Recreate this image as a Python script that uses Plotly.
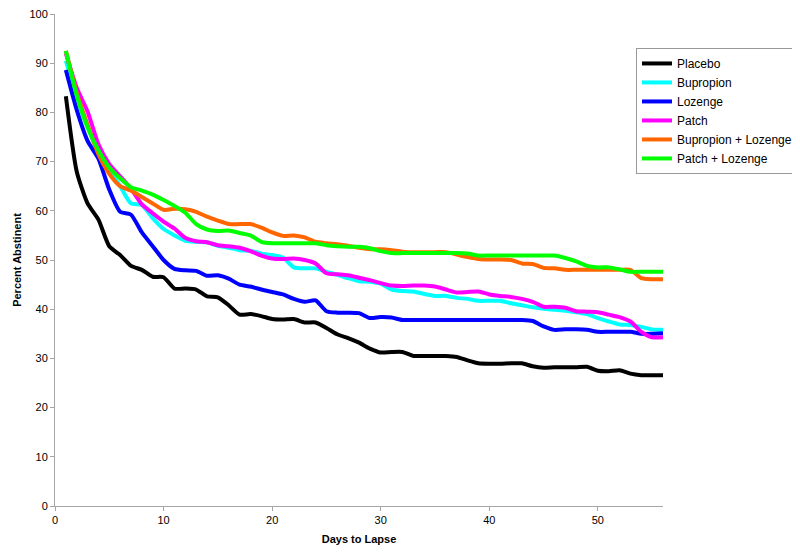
import plotly.graph_objects as go

days = list(range(1, 57))

placebo = [83.3, 68.0, 61.5, 58.2, 52.8, 51.0, 48.8, 48.0, 46.6, 46.5,
           44.2, 44.2, 44.0, 42.6, 42.4, 40.8, 38.9, 39.0, 38.6, 38.0,
           37.9, 38.0, 37.3, 37.3, 36.2, 34.9, 34.1, 33.2, 32.0, 31.2,
           31.3, 31.3, 30.5, 30.5, 30.5, 30.5, 30.3, 29.6, 29.0, 28.9,
           28.9, 29.0, 29.0, 28.4, 28.1, 28.2, 28.2, 28.2, 28.3, 27.5,
           27.4, 27.6, 26.9, 26.6, 26.6, 26.6]

bupropion = [90.5, 83.0, 77.0, 72.0, 68.5, 65.0, 61.5, 61.2, 58.5, 56.3,
             55.0, 53.9, 53.7, 53.6, 52.9, 52.5, 52.0, 51.9, 51.3, 51.0,
             50.5, 48.5, 48.3, 48.3, 47.6, 47.0, 46.3, 45.7, 45.6, 45.2,
             44.0, 43.7, 43.6, 43.1, 42.7, 42.7, 42.3, 42.1, 41.7, 41.7,
             41.7, 41.2, 40.8, 40.4, 40.1, 39.9, 39.7, 39.4, 39.0, 38.2,
             37.5, 36.9, 36.8, 36.4, 35.9, 35.8]

lozenge = [88.6, 80.5, 74.2, 70.6, 64.3, 59.8, 59.2, 55.6, 52.8, 50.0,
           48.2, 47.9, 47.8, 46.8, 46.9, 46.2, 45.0, 44.6, 44.0, 43.5,
           43.0, 42.1, 41.5, 41.8, 39.6, 39.3, 39.3, 39.2, 38.2, 38.4,
           38.3, 37.8, 37.8, 37.8, 37.8, 37.8, 37.8, 37.8, 37.8, 37.8,
           37.8, 37.8, 37.8, 37.6, 36.5, 35.8, 35.9, 35.9, 35.8, 35.4,
           35.4, 35.4, 35.4, 35.0, 35.0, 35.1]

patch = [92.0, 85.0, 80.2, 73.5, 69.5, 67.0, 64.5, 61.3, 59.5, 57.8,
         56.4, 54.5, 53.8, 53.6, 53.0, 52.8, 52.5, 51.8, 50.9, 50.3,
         50.2, 50.3, 50.0, 49.3, 47.3, 47.1, 46.9, 46.4, 45.9, 45.3,
         44.8, 44.7, 44.8, 44.8, 44.6, 44.0, 43.4, 43.5, 43.6, 43.0,
         42.7, 42.5, 42.1, 41.5, 40.5, 40.5, 40.3, 39.6, 39.5, 39.4,
         38.9, 38.4, 37.5, 35.4, 34.3, 34.3]

bup_loz = [92.5, 84.0, 77.5, 71.5, 67.5, 65.0, 64.1, 62.8, 61.5, 60.2,
           60.4, 60.3, 59.8, 58.8, 58.0, 57.3, 57.3, 57.3, 56.6, 55.6,
           54.9, 55.0, 54.6, 53.7, 53.4, 53.2, 52.9, 52.5, 52.2, 52.2,
           52.0, 51.7, 51.6, 51.6, 51.6, 51.6, 51.1, 50.6, 50.2, 50.1,
           50.1, 50.0, 49.3, 49.2, 48.4, 48.3, 48.0, 48.0, 48.0, 48.0,
           48.0, 48.0, 48.0, 46.3, 46.1, 46.1]

patch_loz = [92.5, 83.5, 77.0, 72.3, 68.8, 66.6, 64.8, 64.1, 63.3, 62.2,
             61.0, 59.6, 57.3, 56.2, 55.9, 56.0, 55.5, 55.0, 53.7, 53.4,
             53.4, 53.4, 53.4, 53.4, 53.0, 52.8, 52.7, 52.7, 52.4, 51.8,
             51.4, 51.4, 51.4, 51.4, 51.4, 51.4, 51.4, 51.3, 50.9, 50.9,
             50.9, 50.9, 50.9, 50.9, 50.9, 50.9, 50.4, 49.7, 48.8, 48.5,
             48.5, 48.1, 47.6, 47.6, 47.6, 47.6]

series = [
    ("Placebo", placebo, "#000000"),
    ("Bupropion", bupropion, "#00FFFF"),
    ("Lozenge", lozenge, "#0000FF"),
    ("Patch", patch, "#FF00FF"),
    ("Bupropion + Lozenge", bup_loz, "#FF6600"),
    ("Patch + Lozenge", patch_loz, "#00FF00"),
]

x_ticks = [0, 10, 20, 30, 40, 50]
y_ticks = [0, 10, 20, 30, 40, 50, 60, 70, 80, 90, 100]

fig = go.Figure()
for name, vals, col in series:
    fig.add_trace(go.Scatter(
        x=days, y=vals, name=name, mode="lines",
        line=dict(color=col, width=4, shape="spline", smoothing=0.6),
    ))

font_family = "Liberation Sans, Arial, sans-serif"
fig.update_layout(
    width=792, height=551,
    margin=dict(l=47, r=137, t=6, b=53, autoexpand=False),
    paper_bgcolor="white", plot_bgcolor="white",
    font=dict(family=font_family, size=11, color="black"),
    showlegend=True,
    legend=dict(
        x=0.9556, y=0.931, xanchor="left", yanchor="top",
        bordercolor="#999999", borderwidth=1, bgcolor="white",
        font=dict(family=font_family, size=12, color="black"),
        itemwidth=30, tracegroupgap=0,
    ),
    xaxis=dict(
        range=[0, 56], tickvals=x_ticks, showgrid=False, zeroline=False,
        showline=True, linecolor="#A6A6A6", linewidth=1, automargin=False,
        ticks="outside", tickcolor="#A6A6A6", ticklen=4,
        tickfont=dict(size=11), ticklabeloverflow="allow",
        title=dict(text="<b>Days to Lapse</b>", font=dict(size=11), standoff=10),
    ),
    yaxis=dict(
        range=[0, 100], tickvals=y_ticks, showgrid=False, zeroline=False,
        showline=True, linecolor="#A6A6A6", linewidth=1, automargin=False,
        ticks="outside", tickcolor="#A6A6A6", ticklen=4,
        tickfont=dict(size=11), ticklabeloverflow="allow",
        title=dict(text="<b>Percent Abstinent</b>", font=dict(size=11), standoff=5),
    ),
)

fig.write_html("out.html")
